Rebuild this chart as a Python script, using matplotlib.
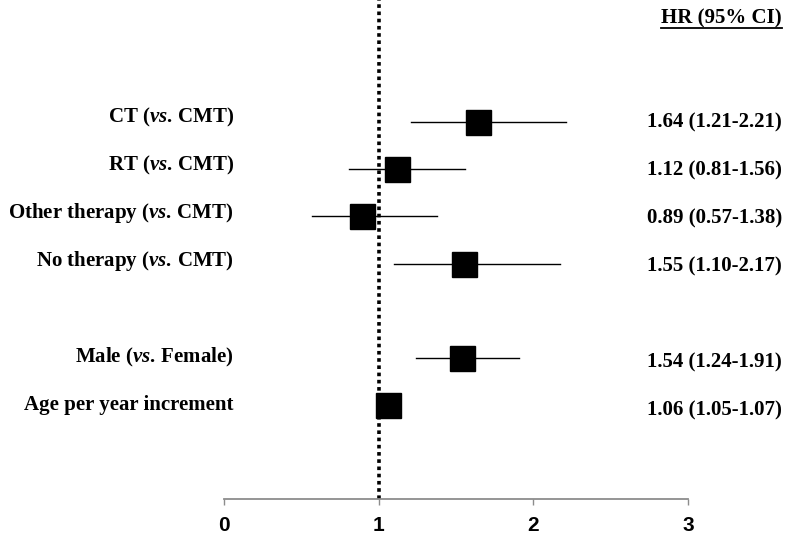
import matplotlib
matplotlib.use("Agg")
import matplotlib.pyplot as plt

plt.rcParams['mathtext.fontset'] = 'custom'
plt.rcParams['mathtext.rm'] = 'Liberation Serif:bold'
plt.rcParams['mathtext.bfit'] = 'Liberation Serif:italic:bold'
plt.rcParams['mathtext.it'] = 'Liberation Serif:italic:bold'

# data
labels = [r'CT ($\mathit{vs.}\,$CMT)', r'RT ($\mathit{vs.}\,$CMT)',
          r'Other therapy ($\mathit{vs.}\,$CMT)', r'No therapy ($\mathit{vs.}\,$CMT)',
          r'Male ($\mathit{vs.}\,$Female)', 'Age per year increment']
rows = [0, 1, 2, 3, 5, 6]
hr = [1.64, 1.12, 0.89, 1.55, 1.54, 1.06]
lower = [1.21, 0.81, 0.57, 1.10, 1.24, 1.05]
upper = [2.21, 1.56, 1.38, 2.17, 1.91, 1.07]
hr_text = ['1.64 (1.21-2.21)', '1.12 (0.81-1.56)', '0.89 (0.57-1.38)',
           '1.55 (1.10-2.17)', '1.54 (1.24-1.91)', '1.06 (1.05-1.07)']
xticks = [0, 1, 2, 3]

W, H = 795, 549
fig = plt.figure(figsize=(W / 100, H / 100), dpi=100)
# one row = 47.2 px, first row at y=122 px, x axis at y=499 px
ax = fig.add_axes([224 / W, 1 - 499 / H, (688 - 224) / W, 499 / H])
ax.set_xlim(0, 3)
ax.set_ylim((499 - 122) / 47.2, -122 / 47.2)

serif = dict(family='Liberation Serif', weight='bold', fontsize=15)

ax.axvline(1, color='black', linestyle=(0, (1, 1)), linewidth=2.6, zorder=1)
for r, m, lo, hi in zip(rows, hr, lower, upper):
    ax.plot([lo, hi], [r, r], color='black', linewidth=1.0, zorder=2)
    ax.plot(m, r, marker='s', markersize=18, color='black', zorder=3)

for r, lab, t in zip(rows, labels, hr_text):
    fig.text(234 / W, 1 - (122 + 48 * r) / H, lab, ha='right', va='baseline', **serif)
    fig.text(782 / W, 1 - (127 + 48 * r) / H, t, ha='right', va='baseline', **serif)

hdr = fig.text(782 / W, 1 - 23 / H, 'HR (95% CI)', ha='right', va='baseline', **serif)
fig.canvas.draw()
bb = hdr.get_window_extent()
uy = 1 - 27.5 / H
fig.add_artist(plt.Line2D([bb.x0 / W, bb.x1 / W], [uy, uy], color='black', linewidth=1.3))

for s in ['top', 'right', 'left']:
    ax.spines[s].set_visible(False)
ax.spines['bottom'].set_color('#8c8c8c')
ax.spines['bottom'].set_linewidth(1.3)
ax.set_yticks([])
ax.set_xticks(xticks)
ax.set_xticklabels([str(x) for x in xticks], family='Liberation Sans',
                   weight='bold', fontsize=15)
ax.tick_params(axis='x', colors='#8c8c8c', length=4, width=1, pad=8, labelcolor='black')

fig.savefig('out.png', dpi=100)
